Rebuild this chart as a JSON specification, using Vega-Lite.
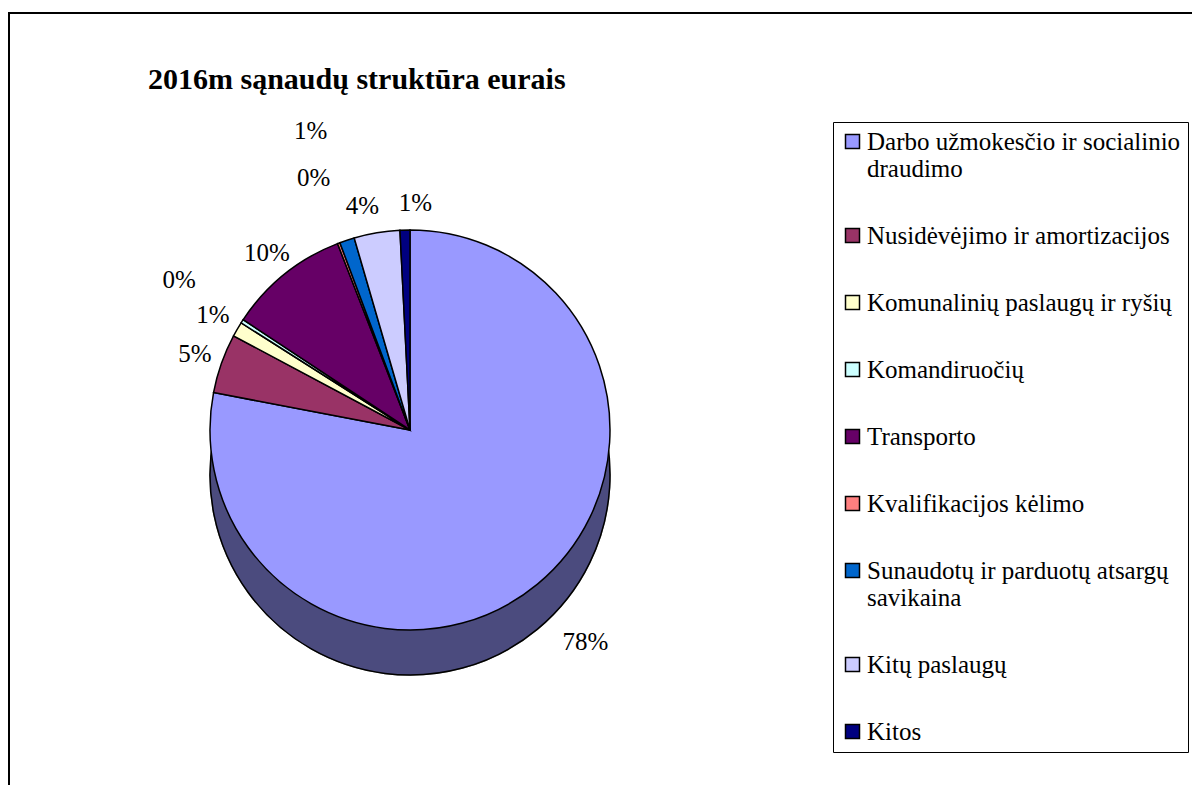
{
  "$schema": "https://vega.github.io/schema/vega-lite/v6.json",
  "width": 1195,
  "height": 785,
  "autosize": {"type": "none"},
  "padding": {"left": 9, "top": 13, "right": 0, "bottom": 0},
  "background": "white",
  "config": {
    "view": {"stroke": "black", "strokeWidth": 2},
    "font": "Liberation Serif",
    "text": {"font": "Liberation Serif", "fontSize": 25, "color": "black"},
    "legend": {"labelFont": "Liberation Serif", "labelFontSize": 25, "labelColor": "black"}
  },
  "title": {
    "text": "2016m sąnaudų struktūra eurais",
    "anchor": "start",
    "frame": "group",
    "dx": 139,
    "offset": -82,
    "font": "Liberation Serif",
    "fontSize": 30,
    "fontWeight": "bold",
    "color": "black"
  },
  "data": {
    "values": [
      {"idx": 1, "cat": "Darbo užmokesčio ir socialinio draudimo", "value": 78.0},
      {"idx": 2, "cat": "Nusidėvėjimo ir amortizacijos", "value": 4.8},
      {"idx": 3, "cat": "Komunalinių paslaugų ir ryšių", "value": 1.2},
      {"idx": 4, "cat": "Komandiruočių", "value": 0.3},
      {"idx": 5, "cat": "Transporto", "value": 9.8},
      {"idx": 6, "cat": "Kvalifikacijos kėlimo", "value": 0.2},
      {"idx": 7, "cat": "Sunaudotų ir parduotų atsargų savikaina", "value": 1.2},
      {"idx": 8, "cat": "Kitų paslaugų", "value": 3.7},
      {"idx": 9, "cat": "Kitos", "value": 0.8}
    ]
  },
  "transform": [
    {"joinaggregate": [{"op": "sum", "field": "value", "as": "total"}]},
    {"calculate": "datum.value / datum.total", "as": "share"}
  ],
  "encoding": {
    "theta": {"field": "value", "type": "quantitative", "stack": true},
    "order": {"field": "idx", "type": "quantitative"},
    "x": {"value": 401},
    "y": {"value": 417},
    "color": {
      "field": "cat", "type": "nominal",
      "scale": {
        "domain": ["Darbo užmokesčio ir socialinio draudimo", "Nusidėvėjimo ir amortizacijos", "Komunalinių paslaugų ir ryšių", "Komandiruočių", "Transporto", "Kvalifikacijos kėlimo", "Sunaudotų ir parduotų atsargų savikaina", "Kitų paslaugų", "Kitos"],
        "range": ["#9999FF", "#993366", "#FFFFCC", "#CCFFFF", "#660066", "#FF8080", "#0066CC", "#CCCCFF", "#000080"]
      },
      "legend": {
        "title": null,
        "orient": "none",
        "legendX": 824,
        "legendY": 109,
        "symbolType": "square",
        "symbolSize": 196,
        "symbolStrokeColor": "black",
        "symbolStrokeWidth": 1.5,
        "symbolOpacity": 1,
        "labelFont": "Liberation Serif",
        "labelFontSize": 25,
        "labelColor": "black",
        "labelLimit": 420,
        "labelOffset": 2,
        "rowPadding": 41,
        "padding": 7,
        "strokeColor": "black",
        "fillColor": "white",
        "labelExpr": "datum.label == 'Darbo užmokesčio ir socialinio draudimo' ? ['Darbo užmokesčio ir socialinio', 'draudimo'] : datum.label == 'Sunaudotų ir parduotų atsargų savikaina' ? ['Sunaudotų ir parduotų atsargų', 'savikaina'] : datum.label",
        "encode": {
          "labels": {"update": {"font": {"value": "Liberation Serif"}, "fontSize": {"value": 25}}}
        }
      }
    }
  },
  "layer": [
    {
      "mark": {"type": "arc", "radius": 200, "yOffset": 45, "stroke": "black", "strokeWidth": 1.5}
    },
    {
      "mark": {"type": "arc", "radius": 200, "yOffset": 45, "fill": "black", "opacity": 0.5, "stroke": "black", "strokeWidth": 1.5},
      "encoding": {"color": {"value": "black"}}
    },
    {
      "mark": {"type": "arc", "radius": 200, "stroke": "black", "strokeWidth": 1.5}
    },
    {
      "mark": {"type": "text", "radius": 275},
      "encoding": {
        "color": {"value": "black"},
        "text": {"field": "share", "type": "quantitative", "format": ".0%"},
        "opacity": {"condition": {"test": "datum.idx == 1", "value": 1}, "value": 0}
      }
    },
    {
      "mark": {"type": "text", "radius": 228},
      "encoding": {
        "color": {"value": "black"},
        "text": {"field": "share", "type": "quantitative", "format": ".0%"},
        "opacity": {"condition": {"test": "datum.idx == 2 || datum.idx == 3 || datum.idx == 5", "value": 1}, "value": 0}
      }
    },
    {
      "mark": {"type": "text", "radius": 275},
      "encoding": {
        "color": {"value": "black"},
        "text": {"field": "share", "type": "quantitative", "format": ".0%"},
        "opacity": {"condition": {"test": "datum.idx == 4", "value": 1}, "value": 0}
      }
    },
    {
      "mark": {"type": "text", "radius": 270},
      "encoding": {
        "color": {"value": "black"},
        "text": {"field": "share", "type": "quantitative", "format": ".0%"},
        "opacity": {"condition": {"test": "datum.idx == 6", "value": 1}, "value": 0}
      }
    },
    {
      "mark": {"type": "text", "radius": 315},
      "encoding": {
        "color": {"value": "black"},
        "text": {"field": "share", "type": "quantitative", "format": ".0%"},
        "opacity": {"condition": {"test": "datum.idx == 7", "value": 1}, "value": 0}
      }
    },
    {
      "mark": {"type": "text", "radius": 227, "dx": -10},
      "encoding": {
        "color": {"value": "black"},
        "text": {"field": "share", "type": "quantitative", "format": ".0%"},
        "opacity": {"condition": {"test": "datum.idx == 8", "value": 1}, "value": 0}
      }
    },
    {
      "mark": {"type": "text", "radius": 227, "dx": 11},
      "encoding": {
        "color": {"value": "black"},
        "text": {"field": "share", "type": "quantitative", "format": ".0%"},
        "opacity": {"condition": {"test": "datum.idx == 9", "value": 1}, "value": 0}
      }
    }
  ]
}
